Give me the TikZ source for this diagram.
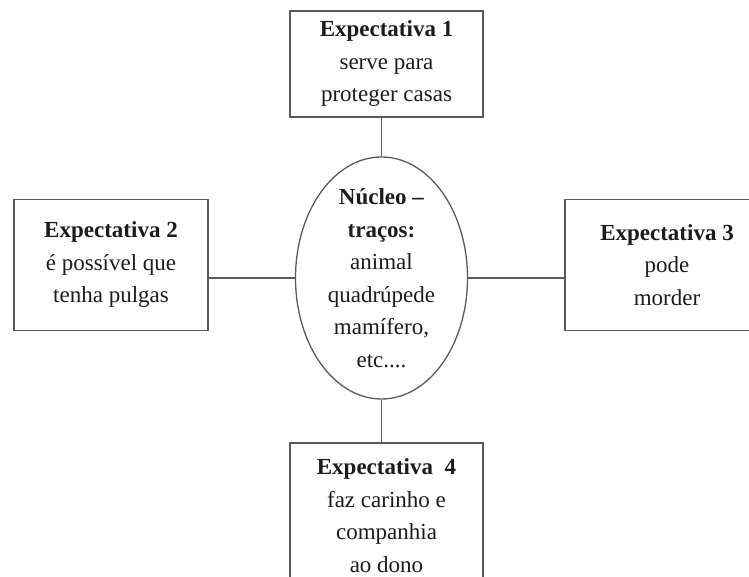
\documentclass[tikz,border=0pt]{standalone}
\usepackage{fontspec}
\setmainfont{Liberation Serif}
\usepackage{tikz}
\usetikzlibrary{shapes.geometric}
\definecolor{linegray}{HTML}{5A5A5A}
\definecolor{textdark}{HTML}{1C1C1C}
\tikzset{
  expbox/.style={draw=linegray,line width=1.5pt,fill=white,align=center,inner sep=0pt,
    text=textdark,font=\fontsize{23}{32.5}\selectfont},
  nucleus/.style={draw=linegray,line width=1.3pt,ellipse,inner sep=0pt,
    minimum width=172,minimum height=242},
  link/.style={draw=linegray,line width=1.3pt}
}
\begin{document}
\begin{tikzpicture}[x=1pt,y=1pt]
\useasboundingbox (0,0) rectangle (749,576);
% objects at depth 100:
\node[nucleus] (nucleo) at (381.5,298) {};
\node[align=center,text=textdark,font=\fontsize{23}{32.5}\selectfont] (nucleotxt) at (nucleo)
  {\textbf{Núcleo –}\\ \textbf{traços:}\\ animal\\ quadrúpede\\ mamífero,\\ etc....};
\node[expbox,minimum width=193,minimum height=106] (exp1) at (386.5,512)
  {\textbf{Expectativa 1}\\ serve para\\ proteger casas};
\node[expbox,minimum width=194,minimum height=131] (exp2) at (111,311)
  {\textbf{Expectativa 2}\\ é possível que\\ tenha pulgas};
\node[expbox,minimum width=204,minimum height=131] (exp3) at (667,311)
  {\textbf{Expectativa 3}\\ pode\\ morder};
\node[expbox,minimum width=193,minimum height=145] (exp4) at (386.5,60.5)
  {\textbf{Expectativa~~4}\\ faz carinho e\\ companhia\\ ao dono};
% objects at depth 50:
\path[link] (nucleo.north) -- (nucleo.north |- exp1.south);
\path[link] (nucleo.south) -- (nucleo.south |- exp4.north);
\path[link] (nucleo.west) -- (nucleo.west -| exp2.east);
\path[link] (nucleo.east) -- (nucleo.east -| exp3.west);
\end{tikzpicture}
\end{document}
